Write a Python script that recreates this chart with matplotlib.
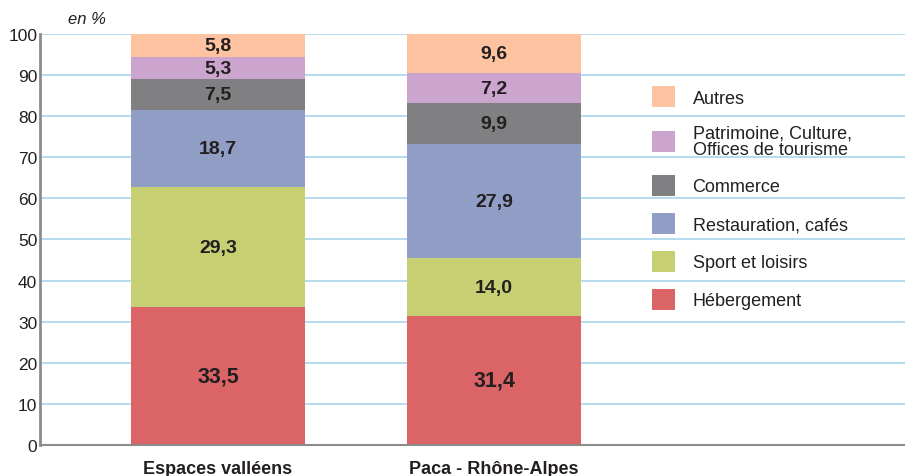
import matplotlib
matplotlib.use('Agg')
import matplotlib.pyplot as plt
from matplotlib.patches import Patch

plt.rcParams['font.family'] = ['Liberation Sans', 'DejaVu Sans']

groups = ['Espaces valléens', 'Paca - Rhône-Alpes']
categories = ['Hébergement', 'Sport et loisirs', 'Restauration, cafés', 'Commerce',
              'Patrimoine, Culture,\nOffices de tourisme', 'Autres']
values = {
    'Hébergement': [33.5, 31.4],
    'Sport et loisirs': [29.3, 14.0],
    'Restauration, cafés': [18.7, 27.9],
    'Commerce': [7.5, 9.9],
    'Patrimoine, Culture,\nOffices de tourisme': [5.3, 7.2],
    'Autres': [5.8, 9.6],
}
colors = ['#DB6467', '#C7CF73', '#909EC5', '#808083', '#CCA5CE', '#FDC3A0']
yticks = [0, 10, 20, 30, 40, 50, 60, 70, 80, 90, 100]

TEXT = '#231F20'
GRID = '#A9D5EE'

fig = plt.figure(figsize=(9.05, 4.77), dpi=100)
ax = fig.add_axes([40 / 905, 31 / 477, 865 / 905, 411 / 477])

x = [0, 1]
width = 0.63
bottom = [0.0, 0.0]
for cat, col in zip(categories, colors):
    vals = values[cat]
    ax.bar(x, vals, width, bottom=bottom, color=col, edgecolor='none', zorder=2)
    fs = 15.5 if cat == 'Hébergement' else 14
    for xi, v, b in zip(x, vals, bottom):
        ax.text(xi, b + v / 2, f'{v:.1f}'.replace('.', ','), ha='center', va='center',
                fontsize=fs, fontweight='bold', color=TEXT, zorder=3)
    bottom = [b + v for b, v in zip(bottom, vals)]

ax.set_xlim(-0.645, 2.489)
ax.set_ylim(0, 100)
ax.set_yticks(yticks)
ax.set_yticklabels([str(t) for t in yticks], fontsize=12.5, color=TEXT)
ax.tick_params(axis='y', length=0, pad=2)
ax.set_xticks(x)
ax.set_xticklabels(groups, fontsize=13, fontweight='bold', color=TEXT)
ax.tick_params(axis='x', length=0, pad=11)
ax.yaxis.grid(True, color=GRID, linewidth=1.2, zorder=0)
ax.set_axisbelow(True)

for s in ['top', 'right']:
    ax.spines[s].set_visible(False)
ax.spines['left'].set_color('#8C8C8C')
ax.spines['left'].set_linewidth(2)
ax.spines['bottom'].set_color('#8C8C8C')
ax.spines['bottom'].set_linewidth(1.5)

ax.text(0.032, 1.02, 'en %', transform=ax.transAxes, fontsize=12, style='italic',
        color=TEXT, ha='left', va='bottom')

handles = [Patch(facecolor=c, edgecolor='none', label=cat)
           for cat, c in zip(categories, colors)][::-1]
leg = ax.legend(handles=handles, loc='upper left', bbox_to_anchor=(0.697, 0.895),
                frameon=False, fontsize=13, handlelength=1.3, handleheight=1.4,
                handletextpad=0.95, labelspacing=0.95, borderpad=0)
for t in leg.get_texts():
    t.set_color(TEXT)
    t.set_linespacing(0.95)

fig.savefig('out.png', dpi=100)
